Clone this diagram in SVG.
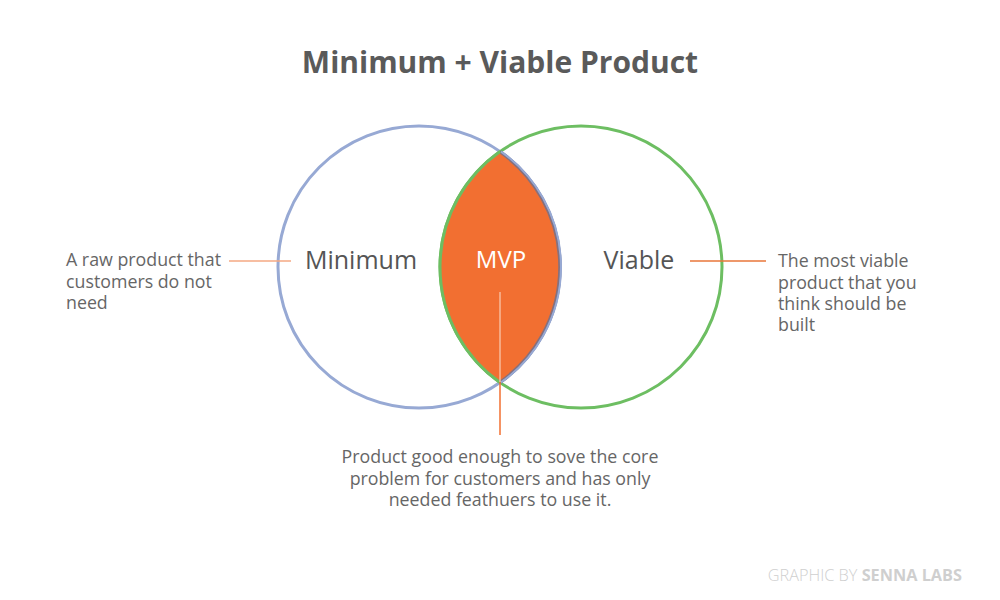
<svg xmlns="http://www.w3.org/2000/svg" width="1000" height="600" viewBox="0 0 1000 600">
<style>
text{font-family:"Open Sans","Liberation Sans",sans-serif}
.title{font-size:30px;font-weight:700;fill:#5a5a5a}
.lbl{font-size:25px;fill:#555}
.note{font-size:17.8px;fill:#666}
.circ{fill:none;stroke-width:3}
</style>
<rect width="1000" height="600" fill="#fff"/>
<text class="title" x="500" y="73" text-anchor="middle">Minimum + Viable Product</text>
<g id="minimum">
<circle class="circ" cx="419" cy="267" r="141" stroke="#97A9D4"/>
<text class="lbl" x="361" y="269" text-anchor="middle">Minimum</text>
</g>
<g id="viable">
<circle class="circ" cx="581" cy="267" r="141" stroke="#6DBE62"/>
<text class="lbl" x="639" y="269" text-anchor="middle">Viable</text>
</g>
<g id="mvp">
<path d="M500,151.6 A141,141 0 0 1 500,382.4 A141,141 0 0 1 500,151.6 Z" fill="#F26F31"/>
<path d="M500,151.6 A141,141 0 0 1 500,382.4" fill="none" stroke="#6b7090" stroke-width="3.5" opacity="0.8"/>
<path d="M500,151.6 A141,141 0 0 1 500,382.4" fill="none" stroke="#97A9D4" stroke-width="2" transform="translate(1,0)"/>
<path d="M500,382.4 A141,141 0 0 1 500,151.6" fill="none" stroke="#6DBE62" stroke-width="3"/>
<text x="501" y="268" text-anchor="middle" font-size="24" fill="#fff">MVP</text>
</g>
<g id="connectors">
<line x1="229" y1="261" x2="291" y2="261" stroke="#F4A983" stroke-width="1.5"/>
<line x1="690" y1="261" x2="766" y2="261" stroke="#E8763A" stroke-width="1.5"/>
<line x1="500" y1="292" x2="500" y2="382" stroke="#F7BA9A" stroke-width="1.5"/>
<line x1="500" y1="382" x2="500" y2="435" stroke="#F26F31" stroke-width="1.5"/>
</g>
<g id="note-left">
<text class="note"><tspan x="66" y="266">A raw product that</tspan><tspan x="66" y="288">customers do not</tspan><tspan x="66" y="309">need</tspan></text>
</g>
<g id="note-right">
<text class="note"><tspan x="778" y="267">The most viable</tspan><tspan x="778" y="289">product that you</tspan><tspan x="778" y="310">think should be</tspan><tspan x="778" y="331">built</tspan></text>
</g>
<g id="note-bottom">
<text class="note" text-anchor="middle"><tspan x="500" y="463">Product good enough to sove the core</tspan><tspan x="500" y="485">problem for customers and has only</tspan><tspan x="500" y="506">needed feathuers to use it.</tspan></text>
</g>
<text x="962" y="581" text-anchor="end" font-size="16.3" fill="#cfcfcf"><tspan font-weight="300">GRAPHIC BY </tspan><tspan font-weight="700">SENNA LABS</tspan></text>
</svg>
